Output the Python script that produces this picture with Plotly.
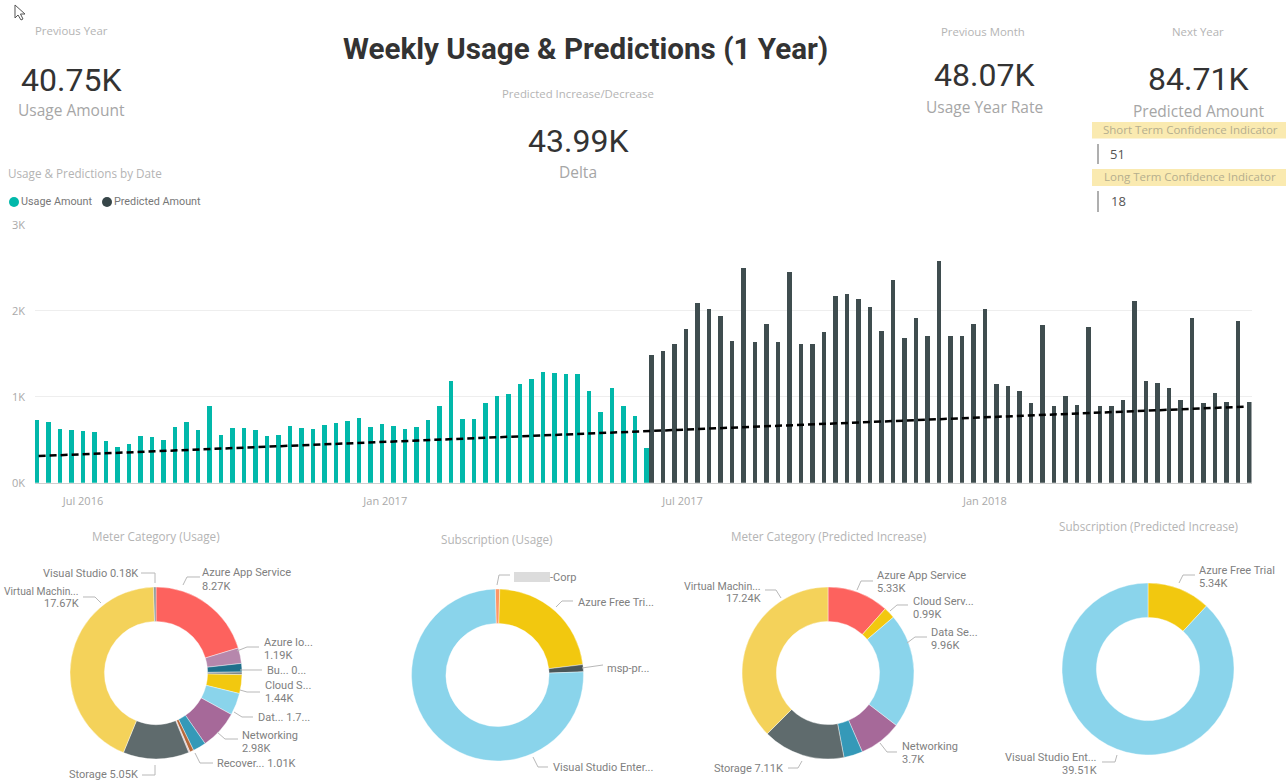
import plotly.graph_objects as go
import pandas as pd

W, H = 1286, 780
TEAL, DARK = "#01B8AA", "#3F4D4F"
BODY, DIN = "Open Sans", "Roboto"

usage_amount = [0.736,0.709,0.628,0.616,0.608,0.589,0.488,0.415,0.457,0.55,0.531,0.504,0.651,0.713,0.62,0.895,
 0.554,0.643,0.636,0.616,0.543,0.554,0.663,0.643,0.632,0.67,0.694,0.721,0.752,0.651,0.682,0.659,0.632,0.647,0.736,
 0.891,1.182,0.748,0.748,0.934,1.016,1.031,1.155,1.205,1.295,1.283,1.267,1.267,1.07,0.822,1.105,0.895,0.775,0.411]
predicted_amount = [1.488,1.535,1.612,1.787,2.093,2.019,1.946,1.655,2.5,1.636,1.849,1.64,2.45,1.612,1.62,1.756,
 2.174,2.194,2.143,2.043,1.767,2.357,1.69,1.922,1.713,2.581,1.709,1.713,1.849,2.027,1.151,1.124,1.07,0.934,1.841,
 0.891,1.008,0.903,1.818,0.899,0.899,0.965,2.116,1.186,1.159,1.109,0.969,1.915,0.93,1.047,0.942,1.888,0.938]
usage_dates = pd.date_range("2016-06-03", periods=len(usage_amount), freq="7D")
predicted_dates = pd.date_range("2017-06-12", periods=len(predicted_amount), freq="7D")
trend_dates = ["2016-06-04", "2018-06-08"]
trend_values = [0.31, 0.884]
y_ticks = [0, 1, 2, 3]
y_tick_labels = ["0K", "1K", "2K", "3K"]
x_ticks = ["2016-07-01", "2017-01-01", "2017-07-01", "2018-01-01"]
x_tick_labels = ["Jul 2016", "Jan 2017", "Jul 2017", "Jan 2018"]

meter_usage_names = ["Azure App Service","Azure IoT","Bu...","Other","Cloud Services","Data Services","Networking",
                     "Recovery Services","Scheduler","Search","Storage","Virtual Machines","Visual Studio"]
meter_usage_values = [8.27,1.19,0.65,0.2,1.44,1.7,2.98,1.01,0.3,0.1,5.05,17.67,0.18]
meter_usage_colors = ["#FD625E","#B687AC","#1F6F8B","#7F898A","#F2C80F","#8AD4EB","#A66999","#3599B8","#B5683A","#DFBFBF","#5F6B6D","#F4D25A","#8A9596"]
sub_usage_names = ["Corp","Azure Free Trial","msp-pr...","Visual Studio Enterprise"]
sub_usage_values = [0.34,9.23,0.55,30.63]
sub_usage_colors = ["#FE9666","#F2C80F","#4A5658","#8AD4EB"]
meter_pred_names = ["Azure App Service","Cloud Services","Data Services","Networking","Recovery Services","Storage","Virtual Machines"]
meter_pred_values = [5.33,0.99,9.96,3.7,1.63,7.11,17.24]
meter_pred_colors = ["#FD625E","#F2C80F","#8AD4EB","#A66999","#3599B8","#5F6B6D","#F4D25A"]
sub_pred_names = ["Azure Free Trial","Visual Studio Enterprise"]
sub_pred_values = [5.34,39.51]
sub_pred_colors = ["#F2C80F","#8AD4EB"]

fig = go.Figure()
px = lambda v: v / W
py = lambda v: 1 - v / H

fig.add_bar(x=usage_dates, y=usage_amount, width=2.8*86400000, marker_color=TEAL, marker_line_width=0, name="Usage Amount", showlegend=False)
fig.add_bar(x=predicted_dates, y=predicted_amount, width=2.8*86400000, marker_color=DARK, marker_line_width=0, name="Predicted Amount", showlegend=False)
fig.add_scatter(x=trend_dates, y=trend_values, mode="lines", line=dict(color="#000000", width=2.5, dash="7px,4px"), showlegend=False, name="Trend")

def donut(names, values, colors, cx, cy, rot=0, d=172):
    fig.add_pie(labels=names, values=values, hole=0.6, sort=False, direction="clockwise", rotation=rot,
                marker=dict(colors=colors, line=dict(color="#FFFFFF", width=0.4)), textinfo="none", showlegend=False,
                domain=dict(x=[px(cx-d/2), px(cx+d/2)], y=[py(cy+d/2), py(cy-d/2)]))

donut(meter_usage_names, meter_usage_values, meter_usage_colors, 156, 673)
donut(sub_usage_names, sub_usage_values, sub_usage_colors, 497.5, 675, rot=-1.5)
donut(meter_pred_names, meter_pred_values, meter_pred_colors, 828, 673)
donut(sub_pred_names, sub_pred_values, sub_pred_colors, 1148, 669)

ann = []
def text(s, x, y, size, color, anchor="center", font=BODY, bold=False):
    if bold:
        s = f"<b>{s}</b>"
    ann.append(dict(text=s, x=px(x), y=py(y), xref="paper", yref="paper", showarrow=False, xanchor=anchor, yanchor="middle",
                    font=dict(size=size, color=color, family=font), borderpad=0, borderwidth=0))

GREY, MID, INK = "#B4B4B4", "#A6A6A6", "#333333"
text("Previous Year", 71, 31, 11.4, GREY)
text("40.75K", 71, 80, 32, INK, font=DIN)
text("Usage Amount", 71, 110, 15.5, MID)
text("Weekly Usage &amp; Predictions (1 Year)", 585, 49, 29.6, INK, font=DIN, bold=True)
text("Predicted Increase/Decrease", 578, 93, 11.4, GREY)
text("43.99K", 578, 141, 32, INK, font=DIN)
text("Delta", 578, 172, 15.5, MID)
text("Previous Month", 983, 32, 11.4, GREY)
text("48.07K", 984, 75, 32, INK, font=DIN)
text("Usage Year Rate", 984, 107, 15.5, MID)
text("Next Year", 1198, 32, 11.4, GREY)
text("84.71K", 1198, 79, 32, INK, font=DIN)
text("Predicted Amount", 1198, 111, 15.5, MID)
text("Short Term Confidence Indicator", 1190, 130, 11.5, "#B5AE8E")
text("51", 1117, 154, 13, "#555555")
text("Long Term Confidence Indicator", 1190, 177, 11.5, "#B5AE8E")
text("18", 1118, 201, 13, "#555555")
text("Usage &amp; Predictions by Date", 8, 173, 11.7, GREY, "left")
text("Usage Amount", 21, 202, 10.8, "#777777", "left", DIN)
text("Predicted Amount", 114, 202, 10.8, "#777777", "left", DIN)
text("Meter Category (Usage)", 156, 536, 11.7, GREY)
text("Subscription (Usage)", 497, 539, 11.7, GREY)
text("Meter Category (Predicted Increase)", 828, 536, 11.7, GREY)
text("Subscription (Predicted Increase)", 1148, 526, 11.7, GREY)

LAB = "#808080"
labels = [
 ("Visual Studio 0.18K",138,573,"right"),("Azure App Service",202,572,"left"),("8.27K",202,586,"left"),
 ("Virtual Machin...",79,591,"right",10.3),("17.67K",79,603,"right"),("Azure Io...",264,642,"left"),("1.19K",264,655,"left"),
 ("Bu... 0...",267,670,"left"),("Cloud S...",265,685,"left"),("1.44K",265,698,"left"),("Dat... 1.7...",258,717,"left"),
 ("Networking",242,735,"left"),("2.98K",242,748,"left"),("Recover... 1.01K",217,763,"left"),("Storage 5.05K",138,774,"right"),
 ("-Corp",550,577,"left"),("Azure Free Tri...",578,602,"left"),("msp-pr...",607,668,"left"),("Visual Studio Enter...",553,767,"left"),
 ("Azure App Service",877,575,"left"),("5.33K",877,588,"left"),("Cloud Serv...",913,601,"left"),("0.99K",913,614,"left"),
 ("Data Se...",931,632,"left"),("9.96K",931,645,"left"),("Networking",902,746,"left"),("3.7K",902,759,"left"),
 ("Storage 7.11K",783,768,"right"),("Virtual Machin...",761,586,"right",10.6),("17.24K",761,598,"right"),
 ("Azure Free Trial",1199,570,"left"),("5.34K",1199,583,"left"),("Visual Studio Ent...",1097,757,"right"),("39.51K",1097,770,"right"),
]
for item in labels:
    s, x, y, a = item[:4]
    text(s, x, y, item[4] if len(item) > 4 else 11, LAB, a, DIN)

shapes = []
def rect(x0, y0, x1, y1, color, layer="below"):
    shapes.append(dict(type="rect", xref="paper", yref="paper", x0=px(x0), x1=px(x1), y0=py(y1), y1=py(y0),
                       fillcolor=color, line_width=0, layer=layer))
def poly(points, color="#B8B8B8", width=1, fill=None):
    path = "M " + " L ".join(f"{px(a):.5f},{py(b):.5f}" for a, b in points)
    if fill:
        path += " Z"
    shapes.append(dict(type="path", path=path, xref="paper", yref="paper", line=dict(color=color, width=width),
                       fillcolor=fill if fill else "rgba(0,0,0,0)"))

rect(1092, 122, 1286, 138.5, "#FAEAB0")
rect(1092, 169, 1286, 186, "#FAEAB0")
rect(1097, 144, 1099, 164, "#AFAFAF")
rect(1097, 191, 1099, 212, "#AFAFAF")
rect(514, 572, 550, 582, "#DCDCDC")
for cx, c in ((14, TEAL), (107, "#374649")):
    shapes.append(dict(type="circle", xref="paper", yref="paper", x0=px(cx-5), x1=px(cx+5), y0=py(207), y1=py(197), fillcolor=c, line_width=0))

leaders = [
 [(141,573),(155,573),(155,583)],[(200,577),(187,577),(183,585)],[(83,597),(95,597),(101,603)],[(259,647),(247,647),(237,651)],
 [(262,670),(240,670)],[(260,692),(247,692),(240,690)],[(253,717),(242,717),(234,712)],[(238,739),(225,739),(217,732)],
 [(213,763),(200,763),(195,753)],[(142,775),(155,775),(155,765)],
 [(510,575),(499,575),(497,585)],[(573,601),(562,601),(556,607)],[(603,665),(582,668)],[(548,767),(538,767),(533,757)],
 [(873,581),(861,581),(857,590)],[(908,605),(897,605),(890,611)],[(927,637),(915,637),(907,643)],[(897,752),(887,752),(880,743)],
 [(788,768),(798,768),(802,761)],[(765,590),(776,590),(781,598)],
 [(1195,575),(1183,575),(1179,583)],[(1102,762),(1115,762),(1117,755)],
]
for l in leaders:
    poly(l)
poly([(15,5),(15,18),(18,15),(21,20),(23,19),(20.5,14),(25,14)], color="#555555", width=1, fill="#FFFFFF")

fig.update_layout(
    width=W, height=H, margin=dict(l=0, r=0, t=0, b=0, autoexpand=False), autosize=False,
    paper_bgcolor="white", plot_bgcolor="white", barmode="overlay", bargap=0,
    annotations=ann, shapes=shapes, showlegend=False,
    xaxis=dict(domain=[px(35), px(1251.5)], type="date", range=["2016-06-01 19:00", "2018-06-12 07:00"],
               tickvals=x_ticks, ticktext=x_tick_labels, showgrid=False, showline=True, linecolor="#CFCFCF", linewidth=1,
               ticks="", ticklabelstandoff=8, tickfont=dict(size=11, color="#A9A9A9", family=BODY)),
    yaxis=dict(domain=[py(482.7), py(224.7)], range=[0, 3], tickvals=y_ticks, ticktext=y_tick_labels, gridcolor="#EEEEEE", gridwidth=1,
               zeroline=False, ticks="", ticklabelstandoff=9, tickfont=dict(size=11, color="#A9A9A9", family=BODY)),
)
fig.write_html("out.html", config=dict(displayModeBar=False),
               post_script="document.body.style.margin='0';document.body.style.overflow='hidden';")
